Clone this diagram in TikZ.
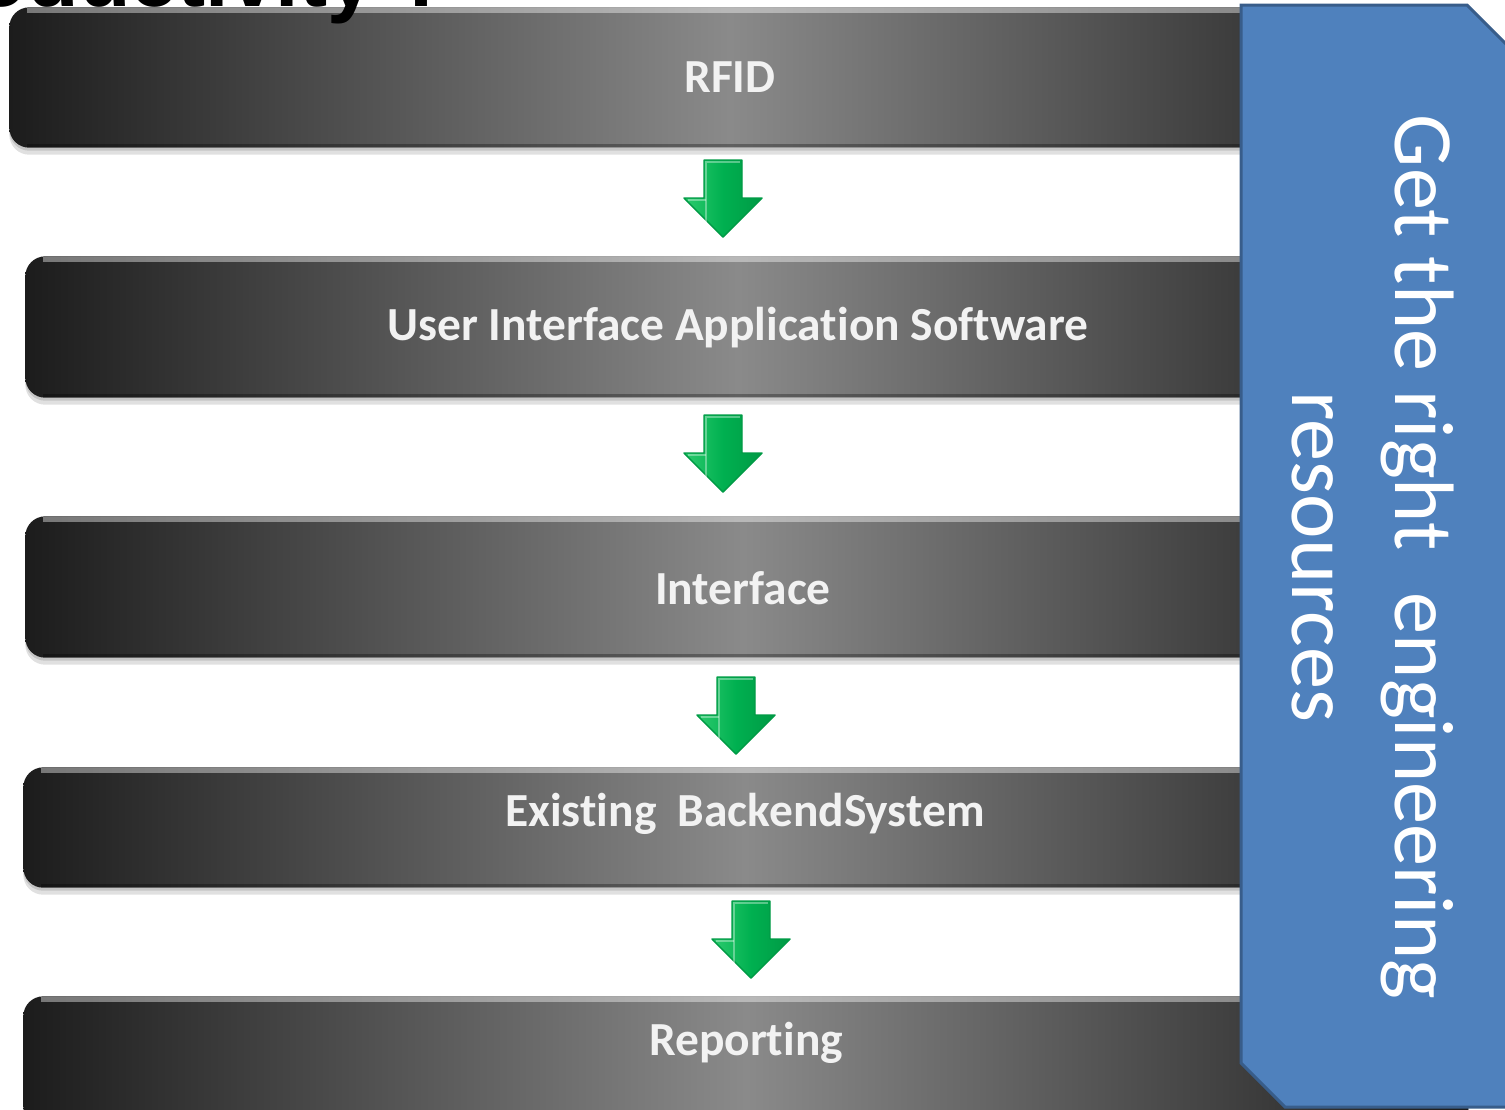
\documentclass[tikz,border=0pt]{standalone}
\usepackage{fontspec}
\setmainfont{Carlito}[Ligatures=NoCommon]
\newfontfamily\titlefont{Liberation Sans}
\usetikzlibrary{calc}

\definecolor{barDark}{HTML}{1C1C1C}
\definecolor{barMid}{HTML}{8A8A8A}
\definecolor{barText}{HTML}{F2F2F2}
\definecolor{panelBlue}{HTML}{4F81BD}
\definecolor{panelEdge}{HTML}{385D8A}
\definecolor{arrowLight}{HTML}{2CCB6E}
\definecolor{arrowGreen}{HTML}{00B050}
\definecolor{arrowDark}{HTML}{009A45}

\tikzset{
	barbox/.style={minimum width=#1, inner sep=0pt},
	barfill/.style={rounded corners=2mm,
		left color=barDark, right color=barDark, middle color=barMid},
	barshadow/.style={rounded corners=2mm, fill=black, opacity=0.12},
	bartext/.style={text=barText, font=\bfseries\fontsize{13.5}{16}\selectfont},
	downarrow/.pic={
		\shadedraw[left color=arrowLight, right color=arrowDark, middle color=arrowGreen,
			draw=arrowDark, line width=0.4pt, line join=round]
			(-19,0) -- (19,0) -- (19,38) -- (39,38) -- (0,77) -- (-39,38) -- (-19,38) -- cycle;
		\draw[white, opacity=0.35, line width=0.8pt] (-17,76) -- (-17,2) -- (17,2);
		\draw[white, opacity=0.35, line width=0.8pt] (-35,40) -- (-17,40);
	}
}

\begin{document}
\begin{tikzpicture}[x=0.1mm, y=-0.1mm]

		\useasboundingbox (0,0) rectangle (1505,1109);
		\clip (0,0) rectangle (1505,1109);

		% the five layers
		\foreach \n/\x/\y/\w/\h in {1/730/77.5/144/13.9, 2/738/327/142.4/14, 3/743/587/143.4/14,
				4/745/827.5/144.2/11.9, 5/746/1061/144.4/12.8} {
			\node[barbox=\w mm, minimum height=\h mm] (bar\n) at (\x,\y) {};
			\fill[barshadow] ($(bar\n.north west)+(0,7)$) rectangle ($(bar\n.south east)+(0,7)$);
			\fill[barshadow] ($(bar\n.north west)+(0,3)$) rectangle ($(bar\n.south east)+(0,3)$);
			\shade[barfill] (bar\n.north west) rectangle (bar\n.south east);
			\draw[white, opacity=0.4, line width=1.3pt]
				($(bar\n.north west)+(18,3)$) -- ($(bar\n.north east)+(-18,3)$);
			\draw[black, opacity=0.3, line width=1pt]
				($(bar\n.south west)+(18,-2)$) -- ($(bar\n.south east)+(-18,-2)$);
		}

		\node[bartext] (lbl1) at (730,77) {RFID};
		\node[bartext] (lbl2) at (738,328) {User Interface Application Software};
		\node[bartext] (lbl3) at (743,588) {Interface};
		\node[bartext] (lbl4) at (745,814) {Existing\hspace{0.45em}BackendSystem};
		\node[bartext] (lbl5) at (746,1043) {Reporting};

		% green arrows between the layers
		\foreach \x/\y in {723/160, 723/415, 736/677, 751/901}
			\pic at (\x,\y) {downarrow};

		% side panel
		\draw[fill=panelBlue, draw=panelEdge, line width=0.85pt]
			(1241,5) -- (1467,5) -- (1520,58) -- (1520,1107) -- (1285,1107) -- (1241,1063) -- cycle;
		\node[white, rotate=-90, align=center, font=\fontsize{24}{29.3}\selectfont] (sidenote)
			at (1373,557) {Get the right\hspace{0.5em}engineering\\resources};

		% title, cut off at the top
		\node[anchor=base east, inner sep=0pt, font=\titlefont\bfseries\fontsize{24}{28}\selectfont] (title)
			at (450,6) {Productivity ?};

\end{tikzpicture}
\end{document}
